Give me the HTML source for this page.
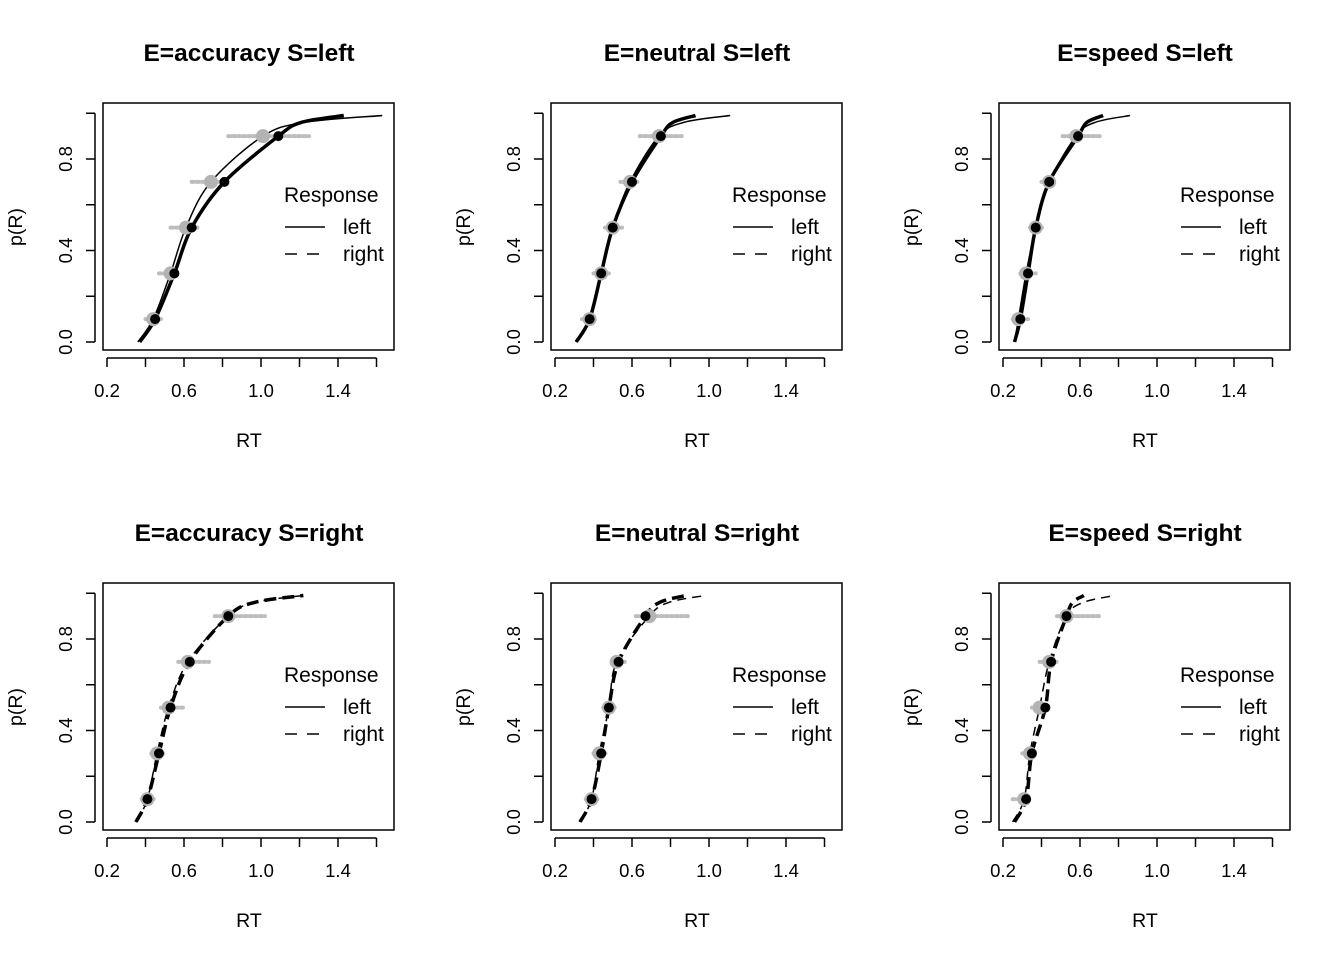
<!DOCTYPE html>
<html><head><meta charset="utf-8"><style>
body{margin:0;background:#fff}
svg text{font-family:"Liberation Sans",Arial,sans-serif;fill:#000}
</style></head><body>
<svg id="chart" width="1344" height="960" viewBox="0 0 1344 960"></svg>
<script>
const titles=["E=accuracy S=left","E=neutral S=left","E=speed S=left","E=accuracy S=right","E=neutral S=right","E=speed S=right"];
const probs=[0.1,0.3,0.5,0.7,0.9];
const xTicks=[0.2,0.4,0.6,0.8,1.0,1.2,1.4,1.6];
const xTickLabels=["0.2","","0.6","","1.0","","1.4",""];
const yTicks=[0,0.2,0.4,0.6,0.8,1.0];
const yTickLabels=["0.0","","0.4","","0.8",""];
const obsQ=[[0.45,0.55,0.64,0.81,1.09],[0.38,0.44,0.50,0.60,0.75],[0.29,0.33,0.37,0.44,0.59],[0.41,0.47,0.53,0.63,0.83],[0.39,0.44,0.48,0.53,0.67],[0.32,0.35,0.42,0.45,0.53]];
const obsStart=[0.37,0.31,0.26,0.35,0.33,0.26];
const obsEnd=[1.43,0.93,0.72,1.22,0.88,0.62];
const modQ=[[0.44,0.53,0.61,0.74,1.01],[0.38,0.44,0.50,0.59,0.74],[0.28,0.32,0.37,0.44,0.58],[0.41,0.46,0.52,0.62,0.83],[0.39,0.43,0.48,0.52,0.69],[0.31,0.34,0.39,0.44,0.53]];
const modStart=[0.36,0.31,0.26,0.35,0.33,0.25];
const modEnd=[1.63,1.11,0.86,1.22,0.98,0.78];
const spreadLo=[[0.40,0.47,0.53,0.64,0.83],[0.34,0.40,0.46,0.54,0.64],[0.25,0.29,0.34,0.40,0.51],[0.38,0.43,0.48,0.57,0.76],[0.36,0.40,0.45,0.50,0.62],[0.25,0.30,0.35,0.39,0.48]];
const spreadHi=[[0.48,0.57,0.67,0.81,1.25],[0.41,0.48,0.55,0.63,0.87],[0.33,0.37,0.41,0.47,0.71],[0.45,0.50,0.60,0.73,1.02],[0.42,0.47,0.51,0.57,0.89],[0.33,0.36,0.43,0.49,0.71]];
const dashed=[false,false,false,true,true,true];
const NS="http://www.w3.org/2000/svg";
const svg=document.getElementById('chart');
function mk(t,a,p){const e=document.createElementNS(NS,t);for(const k in a)e.setAttribute(k,a[k]);(p||svg).appendChild(e);return e;}
function smooth(pts){let d="M"+pts[0][0]+","+pts[0][1];for(let i=0;i<pts.length-1;i++){const p0=pts[Math.max(0,i-1)],p1=pts[i],p2=pts[i+1],p3=pts[Math.min(pts.length-1,i+2)];const c1=[p1[0]+(p2[0]-p0[0])/6,p1[1]+(p2[1]-p0[1])/6],c2=[p2[0]-(p3[0]-p1[0])/6,p2[1]-(p3[1]-p1[1])/6];d+=" C"+c1+" "+c2+" "+p2;}return d;}
const boxL=[103,551,999],boxT=[103,583],W=291,H=247;
for(let k=0;k<6;k++){
 const L=boxL[k%3],T=boxT[Math.floor(k/3)];
 const g=mk('g',{});
 
 
 const X=v=>L+4+(v-0.2)*192.5;
 const Y=v=>T+H-8-v*228.75;
 const t=mk('text',{x:L+146,y:T-42,'text-anchor':'middle','font-size':24.5,'font-weight':'bold'},g);t.textContent=titles[k];
 
 mk('rect',{x:L,y:T,width:W,height:H,fill:'none',stroke:'#000','stroke-width':1.5},g);
 mk('line',{x1:X(0.2),x2:X(1.6),y1:T+H+8,y2:T+H+8,stroke:'#000','stroke-width':1.5},g);
 xTicks.forEach((v,i)=>{mk('line',{x1:X(v),x2:X(v),y1:T+H+8,y2:T+H+17,stroke:'#000','stroke-width':1.5},g);
  if(xTickLabels[i]){const s=mk('text',{x:X(v),y:T+H+47,'text-anchor':'middle','font-size':18.5},g);s.textContent=xTickLabels[i];}});
 mk('line',{x1:L-8,x2:L-8,y1:Y(0),y2:Y(1),stroke:'#000','stroke-width':1.5},g);
 yTicks.forEach((v,i)=>{mk('line',{x1:L-8,x2:L-17,y1:Y(v),y2:Y(v),stroke:'#000','stroke-width':1.5},g);
  if(yTickLabels[i]){const s=mk('text',{x:0,y:0,'text-anchor':'middle','font-size':18.5,transform:`translate(${L-31},${Y(v)}) rotate(-90)`},g);s.textContent=yTickLabels[i];}});
 const xl=mk('text',{x:L+146,y:T+H+97,'text-anchor':'middle','font-size':19.5},g);xl.textContent="RT";
 
 const yl=mk('text',{x:0,y:0,'text-anchor':'middle','font-size':19.5,transform:`translate(${L-81},${T+124}) rotate(-90)`},g);yl.textContent="p(R)";
 
 probs.forEach((p,i)=>{const ln=mk('line',{x1:X(spreadLo[k][i]),x2:X(spreadHi[k][i]),y1:Y(p),y2:Y(p),stroke:'#bdbdbd','stroke-width':4,'stroke-dasharray':'2 3','stroke-linecap':'round'},g);
  });
 const da=dashed[k]?'9 6':'none';
 const mp=[[X(modStart[k]),Y(0)]].concat(probs.map((p,i)=>[X(modQ[k][i]),Y(p)]),[[X(modEnd[k]),Y(0.99)]]);
 mp.splice(mp.length-1,0,[X(modQ[k][4]+(modEnd[k]-modQ[k][4])*0.35),Y(0.96)]);
 const ml=mk('path',{d:smooth(mp),fill:'none',stroke:'#000','stroke-width':1.5,'stroke-dasharray':da},g);
 
 const op=[[X(obsStart[k]),Y(0)]].concat(probs.map((p,i)=>[X(obsQ[k][i]),Y(p)]),[[X(obsEnd[k]),Y(0.99)]]);
 op.splice(op.length-1,0,[X(obsQ[k][4]+(obsEnd[k]-obsQ[k][4])*0.35),Y(0.96)]);
 const ol=mk('path',{d:smooth(op),fill:'none',stroke:'#000','stroke-width':3.5,'stroke-dasharray':dashed[k]?'12 6':'none'},g);
 
 probs.forEach((p,i)=>{const c=mk('circle',{cx:X(modQ[k][i]),cy:Y(p),r:7,fill:'#b3b3b3'},g);
  });
 probs.forEach((p,i)=>{const c=mk('circle',{cx:X(obsQ[k][i]),cy:Y(p),r:5,fill:'#000'},g);
  });
 const lg=mk('g',{},g);
 const r=mk('text',{x:L+181,y:T+99,'font-size':21},lg);r.textContent="Response";
 mk('line',{x1:L+182,x2:L+222,y1:T+124,y2:T+124,stroke:'#000','stroke-width':1.5},lg);
 const a=mk('text',{x:L+240,y:T+131,'font-size':21},lg);a.textContent="left";
 mk('line',{x1:L+182,x2:L+222,y1:T+151,y2:T+151,stroke:'#000','stroke-width':1.5,'stroke-dasharray':'12 10'},lg);
 const b=mk('text',{x:L+240,y:T+158,'font-size':21},lg);b.textContent="right";
}
</script>
</body></html>
